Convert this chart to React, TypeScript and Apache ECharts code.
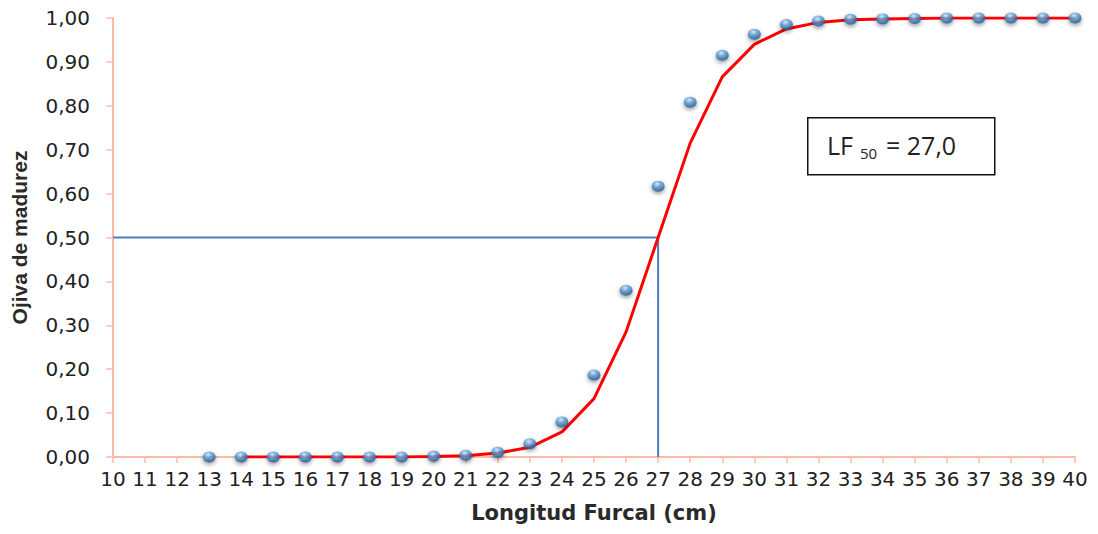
import React, { useEffect, useRef } from 'react';
import * as echarts from 'echarts';

const pointX = [13, 14, 15, 16, 17, 18, 19, 20, 21, 22, 23, 24, 25, 26, 27, 28, 29, 30, 31, 32, 33, 34, 35, 36, 37, 38, 39, 40];
const pointY = [0, 0, 0, 0, 0, 0, 0, 0.002, 0.004, 0.011, 0.03, 0.08, 0.187, 0.38, 0.617, 0.808, 0.915, 0.963, 0.985, 0.993, 0.997, 0.998, 0.999, 1, 1, 1, 1, 1];

const fitX = [14, 15, 16, 17, 18, 19, 20, 21, 22, 23, 24, 25, 26, 27, 28, 29, 30, 31, 32, 33, 34, 35, 36, 37, 38, 39, 40];
const fitY = [0, 0, 0, 0, 0, 0, 0.001, 0.003, 0.009, 0.022, 0.057, 0.133, 0.285, 0.5, 0.715, 0.866, 0.94, 0.975, 0.99, 0.996, 0.998, 0.999, 1, 1, 1, 1, 1];

const refX = [10, 27, 27];
const refY = [0.5, 0.5, 0];

const xMin = 10;
const xMax = 40;
const yMin = 0;
const yMax = 1;

const xTitle = 'Longitud Furcal (cm)';
const yTitle = 'Ojiva de madurez';
const boxMain = 'LF';
const boxSub = '50';
const boxValue = '= 27,0';

export default function App() {
  const ref = useRef<HTMLDivElement>(null);

  useEffect(() => {
    if (!ref.current) return;
    const chart = echarts.init(ref.current, undefined, { renderer: 'svg' });
    const axisColor = '#fbbca3';
    const textColor = '#222222';

    const markerGradient = new echarts.graphic.RadialGradient(0.42, 0.3, 0.72, [
      { offset: 0, color: '#d2ecfb' },
      { offset: 0.35, color: '#6aa6da' },
      { offset: 0.75, color: '#3a72ad' },
      { offset: 1, color: '#24507f' },
    ]);

    chart.setOption({
      animation: false,
      backgroundColor: '#ffffff',
      grid: { left: 113, right: 23, top: 18, bottom: 77 },
      xAxis: {
        type: 'value',
        min: xMin,
        max: xMax,
        interval: 1,
        name: xTitle,
        nameLocation: 'middle',
        nameGap: 45,
        nameTextStyle: { fontFamily: 'DejaVu Sans', fontWeight: 'bold', fontSize: 21, color: '#2a2a2a' },
        axisLine: { show: true, lineStyle: { color: axisColor, width: 2 } },
        axisTick: { show: true, length: 6, lineStyle: { color: axisColor, width: 1.5 } },
        axisLabel: {
          margin: 12,
          fontFamily: 'DejaVu Sans',
          fontSize: 20,
          color: textColor,
          hideOverlap: false,
        },
        splitLine: { show: false },
      },
      yAxis: {
        type: 'value',
        min: yMin,
        max: yMax,
        interval: 0.1,
        name: yTitle,
        nameLocation: 'middle',
        nameGap: 83,
        nameRotate: 90,
        nameTextStyle: { fontFamily: 'Liberation Sans', fontWeight: 'bold', fontSize: 21, color: '#2a2a2a' },
        axisLine: { show: true, lineStyle: { color: axisColor, width: 2 } },
        axisTick: { show: true, length: 7, lineStyle: { color: axisColor, width: 1.5 } },
        axisLabel: {
          margin: 23,
          fontFamily: 'DejaVu Sans',
          fontSize: 20,
          color: textColor,
          formatter: (v: number) => v.toFixed(2).replace('.', ','),
        },
        splitLine: { show: false },
      },
      series: [
        {
          type: 'line',
          data: refX.map((x, i) => [x, refY[i]]),
          symbol: 'none',
          lineStyle: { color: '#4a7ebb', width: 2 },
          z: 2,
          silent: true,
        },
        {
          type: 'line',
          data: fitX.map((x, i) => [x, fitY[i]]),
          symbol: 'none',
          lineStyle: { color: '#ff0000', width: 3 },
          z: 3,
          silent: true,
        },
        {
          type: 'scatter',
          data: pointX.map((x, i) => [x, pointY[i]]),
          symbol: 'circle',
          symbolSize: [13, 11],
          itemStyle: {
            color: markerGradient,
            shadowBlur: 4,
            shadowColor: 'rgba(0,0,0,0.5)',
            shadowOffsetY: 2,
          },
          z: 4,
          silent: true,
        },
      ],
      graphic: [
        {
          type: 'rect',
          left: 807,
          top: 117,
          shape: { width: 187, height: 57 },
          style: { fill: '#ffffff', stroke: '#111111', lineWidth: 1.5 },
          z: 10,
        },
        {
          type: 'text',
          left: 827,
          top: 132,
          style: { text: boxMain, fontFamily: 'Open Sans', fontSize: 25, fill: '#222222' },
          z: 11,
        },
        {
          type: 'text',
          left: 860,
          top: 145,
          style: { text: boxSub, fontFamily: 'Open Sans', fontSize: 15, fill: '#222222' },
          z: 11,
        },
        {
          type: 'text',
          left: 886,
          top: 132,
          style: { text: boxValue, fontFamily: 'Open Sans', fontSize: 25, fill: '#222222' },
          z: 11,
        },
      ],
    });

    return () => {
      chart.dispose();
    };
  }, []);

  return (
    <div
      ref={ref}
      style={{ position: 'absolute', left: 0, top: 0, width: 1098, height: 534 }}
    />
  );
}
